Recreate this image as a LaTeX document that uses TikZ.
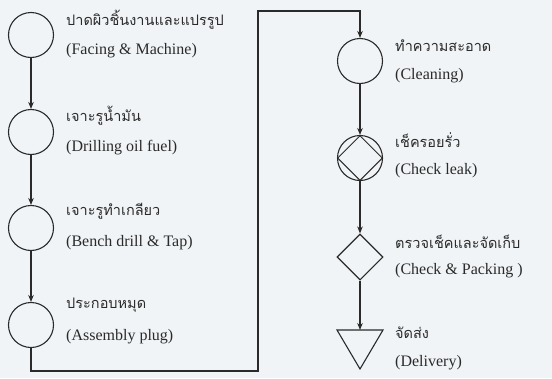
\documentclass[tikz,border=0pt]{standalone}
\usepackage{fontspec}
\setmainfont{Liberation Serif}
\newfontfamily\thaifont[Script=Thai]{Loma}
\usetikzlibrary{arrows.meta,shapes.geometric}
\definecolor{bg}{HTML}{F1F4F6}
\definecolor{ink}{HTML}{2A2A2A}
\tikzset{
  proc/.style={circle, draw=ink, line width=1.1pt, minimum size=45pt, inner sep=0pt},
  chk/.style={diamond, draw=ink, line width=1.1pt, minimum size=46pt, inner sep=0pt, aspect=1},
  flow/.style={draw=ink, line width=1.1pt, -{Stealth[length=7pt,width=5.5pt]}},
  link/.style={draw=ink, line width=1.1pt},
  th/.style={anchor=west, inner sep=0pt, font=\thaifont\fontsize{14.5}{17}\selectfont, text=ink},
  en/.style={anchor=west, inner sep=0pt, font=\fontsize{16}{18}\selectfont, text=ink}
}
\begin{document}
\begin{tikzpicture}[x=1pt,y=-1pt]
\fill[bg] (0,0) rectangle (552,378);
\useasboundingbox (0,0) rectangle (552,378);
% left column
\node[proc] (a1) at (31,35) {};
\node[proc] (a2) at (31,132) {};
\node[proc] (a3) at (31,228) {};
\node[proc] (a4) at (31,325) {};
\node[th] (t1) at (66,20) {ปาดผิวชิ้นงานและแปรรูป};
\node[en] (e1) at (66,51) {(Facing \& Machine)};
\node[th] (t2) at (66,116) {เจาะรูน้ำมัน};
\node[en] (e2) at (66,148) {(Drilling oil fuel)};
\node[th] (t3) at (66,211) {เจาะรูทำเกลียว};
\node[en] (e3) at (66,243) {(Bench drill \& Tap)};
\node[th] (t4) at (66,305) {ประกอบหมุด};
\node[en] (e4) at (66,337) {(Assembly plug)};
% right column
\node[proc] (b1) at (360,61) {};
\node[proc] (b2) at (360,158) {};
\node[diamond, draw=ink, line width=1pt, minimum size=45pt, inner sep=0pt, aspect=1] (b2d) at (b2) {};
\node[chk] (b3) at (360,257) {};
\coordinate (tl) at (337,330);
\coordinate (tr) at (383,330);
\coordinate (tb) at (360,369);
\draw[link, line join=miter] (tl) -- (tr) -- (tb) -- cycle;
\coordinate (b4) at (360,330);
\node[th] (t5) at (395,46) {ทำความสะอาด};
\node[en] (e5) at (395,76) {(Cleaning)};
\node[th] (t6) at (395,140) {เช็ครอยรั่ว};
\node[en] (e6) at (395,171) {(Check leak)};
\node[th] (t7) at (395,242) {ตรวจเช็คและจัดเก็บ};
\node[en] (e7) at (395,271) {(Check \& Packing )};
\node[th] (t8) at (395,333) {จัดส่ง};
\node[en] (e8) at (395,363) {(Delivery)};
% connectors
\draw[flow] (a1.south) -- (a2.north);
\draw[flow] (a2.south) -- (a3.north);
\draw[flow] (a3.south) -- (a4.north);
\coordinate (c1) at (31,371);
\coordinate (c2) at (258,371);
\coordinate (c3) at (258,11);
\coordinate (c4) at (360,11);
\draw[flow] (a4.south) -- (c1) -- (c2) -- (c3) -- (c4) -- (b1.north);
\draw[flow] (b1.south) -- (b2.north);
\draw[flow] (b2.south) -- (b3.north);
\draw[flow] (b3.south) -- (b4);
\end{tikzpicture}
\end{document}
